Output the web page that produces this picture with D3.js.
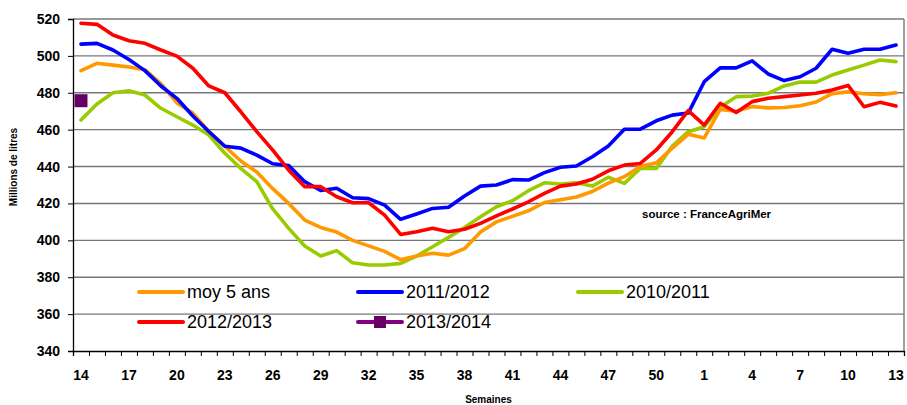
<!DOCTYPE html>
<html><head><meta charset="utf-8">
<script src="https://cdn.jsdelivr.net/npm/d3@7"></script>
<style>
body{margin:0;background:#fff;}
svg{display:block;font-family:Arial,"Liberation Sans",sans-serif;}
</style></head>
<body><svg id="c" width="907" height="405"></svg>
<script>
const weeks = [14,15,16,17,18,19,20,21,22,23,24,25,26,27,28,29,30,31,32,33,34,35,36,37,38,39,40,41,42,43,44,45,46,47,48,49,50,51,52,1,2,3,4,5,6,7,8,9,10,11,12,13];
const weekLabels = [14,17,20,23,26,29,32,35,38,41,44,47,50,1,4,7,10,13];
const yTicks = [340,360,380,400,420,440,460,480,500,520];

const moy5ans = [492,496,495,494,492.5,485,474.5,469,459,451,443,437,428,420,411,407,404.5,400,397,394,389.5,391.5,393,392,395.5,404.5,410,413,416,420.5,422,423.5,426.5,431,434.5,440,442,450,457.5,455.5,471,470,472.5,471.8,472,473,475,479.5,480.5,479.5,479,480];
const s2011_2012 = [506.4,506.8,503.2,498,492,483.7,477,467.4,459,451,450,446.2,441.5,440.5,431.8,427,428.2,423.1,422.6,419.1,411.4,414.3,417.3,417.9,424,429.4,430,432.9,432.7,436.7,439.6,440.3,445.3,451.1,460.2,460.3,464.8,467.9,469,486,493.5,493.5,497.3,490.2,486.6,488.7,493.3,503.6,501.4,503.6,503.6,505.9];
const s2010_2011 = [465.2,473.9,480,481.1,478.8,471.6,467,462.5,457.1,447.2,439,431.8,417,406.5,396.9,391.5,394.4,387.8,386.6,386.6,387.5,391.5,396.5,401.6,407,412.8,418.2,421.5,426.9,431.2,430.5,431.2,429.4,434.2,430.9,439,439,451.1,458.9,461.6,472.2,477.9,478.2,479.7,483.7,485.8,485.8,489.6,492.3,495,497.8,496.9];
const s2012_2013 = [517.7,517.1,511.3,508.2,506.8,503.2,499.9,493.3,483.7,480,469.7,458.9,448.9,438,429.1,429.1,423.6,420.4,420.4,413.7,403.2,404.7,406.5,404.7,406,409.2,413.2,417,420.9,425.5,429.4,430.5,433.1,437.7,440.8,441.7,449,458.9,470.3,462.5,474.3,469.3,475.2,477,477.9,478.8,479.7,481.5,484,472.4,474.8,472.8];
const s2013_2014 = [475.7];

const seriesNames = ["moy 5 ans","2011/2012","2010/2011","2012/2013","2013/2014"];
const seriesColors = ["#FF9900","#0000FF","#99CC00","#FF0000","#800080"];

const svg = d3.select("#c");
const L = 73, R = 904, T = 19, B = 351;

const x = d3.scaleBand().domain(weeks.map(String)).range([L, R]).padding(0);
const xEdge = d3.scaleLinear().domain([0, weeks.length]).range([L, R]);
const y = d3.scaleLinear().domain([340, 520]).range([B, T]);
const cx = w => x(String(w)) + x.bandwidth()/2;

// gridlines
svg.append("g").selectAll("line").data(yTicks.filter(v => v > 340)).join("line")
  .attr("x1", L).attr("x2", R).attr("y1", d => y(d)).attr("y2", d => y(d))
  .attr("stroke", "#777").attr("stroke-width", 1.4);
// right border
svg.append("line").attr("x1", R).attr("x2", R).attr("y1", T).attr("y2", B)
  .attr("stroke", "#777").attr("stroke-width", 1.4);

// y axis
const ya = svg.append("g").attr("transform", `translate(${L},0)`)
  .call(d3.axisLeft(y).tickValues(yTicks).tickSize(5).tickPadding(8).tickFormat(d3.format("d")));
ya.select(".domain").attr("stroke", "#000").attr("stroke-width", 1.3);
ya.selectAll(".tick line").attr("stroke", "#000");
ya.selectAll("text").attr("font-size", 14).attr("font-weight", "bold").attr("fill", "#000")
  .attr("font-family", "Arial, 'Liberation Sans', sans-serif");

// x axis tick marks at band edges
const xt = svg.append("g").attr("transform", `translate(0,${B})`)
  .call(d3.axisBottom(xEdge).tickValues(d3.range(weeks.length + 1)).tickSize(5).tickFormat(""));
xt.select(".domain").attr("stroke", "#000").attr("stroke-width", 1.3);
xt.selectAll(".tick line").attr("stroke", "#000");
// x axis labels
const xl = svg.append("g").attr("transform", `translate(0,${B})`)
  .call(d3.axisBottom(x).tickValues(weekLabels.map(String)).tickSize(0).tickPadding(19));
xl.select(".domain").remove();
xl.selectAll("text").attr("font-size", 14).attr("font-weight", "bold").attr("fill", "#000")
  .attr("font-family", "Arial, 'Liberation Sans', sans-serif");

// axis titles
svg.append("text").attr("x", (L + R)/2).attr("y", 403).attr("text-anchor", "middle")
  .attr("font-size", 10).attr("font-weight", "bold").text("Semaines");
svg.append("text").attr("transform", "translate(17,167) rotate(-90)").attr("text-anchor", "middle")
  .attr("font-size", 10).attr("font-weight", "bold").text("Millions de litres");

// source
svg.append("text").attr("x", 642).attr("y", 218).attr("font-size", 11.5).attr("font-weight", "bold")
  .text("source : FranceAgriMer");

// lines
const line = d3.line().defined(d => d != null).x((d, i) => cx(weeks[i])).y(d => y(d));
const drawOrder = [
  {data: s2010_2011, c: 2},
  {data: moy5ans, c: 0},
  {data: s2011_2012, c: 1},
  {data: s2012_2013, c: 3}
];
drawOrder.forEach(s => {
  svg.append("path").datum(s.data).attr("d", line).attr("fill", "none")
    .attr("stroke", seriesColors[s.c]).attr("stroke-width", 3.6)
    .attr("stroke-linejoin", "round").attr("stroke-linecap", "round");
});
// 2013/2014 marker
svg.append("g").selectAll("rect").data(s2013_2014).join("rect")
  .attr("x", (d, i) => cx(weeks[i]) - 6.5).attr("y", d => y(d) - 6.5)
  .attr("width", 13).attr("height", 13).attr("fill", "#660066");

// legend
const legendPos = [[139, 292], [358, 292], [578, 292], [139, 322], [358, 322]];
const lg = svg.append("g");
seriesNames.forEach((n, i) => {
  const [lx, ly] = legendPos[i];
  lg.append("line").attr("x1", lx).attr("x2", lx + 44).attr("y1", ly).attr("y2", ly)
    .attr("stroke", seriesColors[i]).attr("stroke-width", 4).attr("stroke-linecap", "round");
  if (i === 4) {
    lg.append("rect").attr("x", lx + 22 - 6).attr("y", ly - 6).attr("width", 12).attr("height", 12)
      .attr("fill", "#660066");
  }
  lg.append("text").attr("x", lx + 48).attr("y", ly).attr("dy", "0.36em")
    .attr("font-size", 18).attr("fill", "#000").text(n);
});
</script>
</body></html>
